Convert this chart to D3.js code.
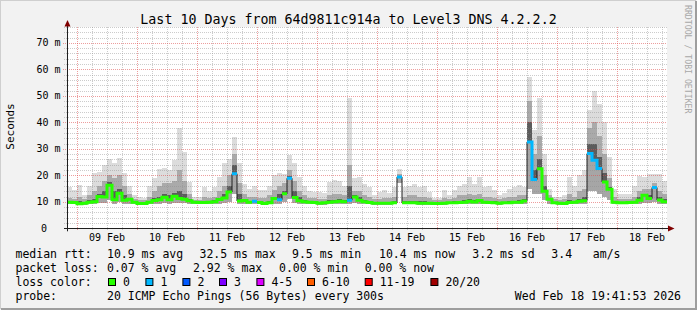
<!DOCTYPE html>
<html><head><meta charset="utf-8">
<script src="https://cdn.jsdelivr.net/npm/d3@7"></script>
<style>
body{margin:0;background:#f2f2f2}
svg{display:block}
text{font-family:"DejaVu Sans Mono",monospace;white-space:pre}
</style></head>
<body><svg id="c" width="697" height="310"></svg>
<script>
// ---- data (2-hour columns starting Feb 8 20:00), values in ms ----
const med = [9.8,9.7,9.3,9.5,9.8,10.0,12.0,11.8,16.2,10.8,13.2,10.6,11.0,9.8,9.4,9.4,9.8,10.5,10.8,11.7,10.8,12.1,11.2,11.0,10.4,9.8,9.7,9.7,9.8,10.0,10.9,11.4,13.7,20.6,10.3,10.5,9.8,10.2,9.7,9.4,9.6,11.2,10.8,13.0,18.9,11.6,10.4,10.0,9.8,9.7,9.5,9.6,9.8,10.0,10.2,10.0,10.6,11.8,10.6,10.0,9.7,9.5,9.5,9.5,9.5,9.6,19.4,9.6,9.6,9.6,9.5,9.5,9.5,9.4,9.4,9.5,9.6,9.6,9.7,9.8,10.2,9.9,10.5,9.8,9.7,9.6,9.5,9.6,9.6,9.8,9.8,10.3,32.6,18.4,22.5,14.0,11.0,9.6,9.5,9.4,9.7,9.8,10.2,10.4,28.2,25.7,22.6,17.5,14.7,9.8,9.6,9.6,9.7,9.8,10.6,12.5,11.2,15.4,10.7,10.0];
const hi  = [15.6,14.3,16.5,12.5,16.0,21.0,21.3,24.0,26.0,24.5,26.5,21.0,16.0,12.5,12.0,11.5,15.8,19.0,22.5,22.6,22.0,25.7,38.0,28.8,17.5,11.8,12.0,15.5,14.0,15.6,19.4,24.5,26.0,34.5,24.5,16.6,15.0,16.0,14.3,14.3,16.0,20.0,21.0,20.5,27.5,24.5,19.4,16.0,14.0,13.8,13.8,13.5,17.5,18.1,18.0,16.0,49.0,19.0,19.4,16.8,15.6,12.6,13.8,14.3,13.2,15.6,22.5,15.6,16.1,16.8,15.6,16.1,13.8,11.5,11.5,14.3,12.6,14.3,16.0,16.8,19.4,16.8,19.4,15.6,16.0,14.3,12.5,13.2,15.0,15.6,16.2,15.6,57.0,37.0,49.0,28.0,15.0,12.0,12.0,12.5,19.4,16.0,20.0,22.0,44.5,52.0,47.0,40.0,27.0,14.8,13.0,13.0,13.0,16.0,19.8,19.4,20.6,20.6,20.6,18.0];
const q90 = [11.5,11.0,12.0,11.0,12.5,14.0,16.0,18.0,20.0,19.0,20.0,16.0,13.0,11.0,10.8,10.5,12.0,14.0,16.0,17.0,17.0,18.0,22.0,18.0,13.0,10.8,10.8,12.0,11.5,12.0,14.0,16.0,20.0,28.0,17.0,13.0,12.0,12.0,11.5,11.5,12.5,14.5,16.0,17.0,22.0,18.0,14.0,12.5,11.5,11.5,11.0,11.0,12.5,13.0,13.0,12.5,24.0,14.0,14.0,12.5,12.0,11.0,11.0,11.5,11.5,12.0,20.5,12.0,12.5,12.5,12.0,12.0,11.5,10.5,10.5,11.5,11.0,11.5,12.5,12.5,13.0,12.5,13.0,12.0,12.0,11.5,11.0,11.5,12.0,12.0,12.5,12.5,48.0,28.0,35.0,20.0,12.5,11.0,10.8,11.0,13.0,12.0,14.0,15.0,38.0,40.0,35.0,28.0,19.0,12.0,11.0,11.0,11.0,12.0,14.0,15.0,15.0,17.0,14.0,13.0];
const q75 = [10.3,10.2,10.4,10.1,10.6,11.0,13.0,14.0,17.5,14.0,15.0,12.5,11.5,10.2,10.0,9.9,10.4,11.5,12.0,13.0,12.5,13.5,14.0,13.0,11.0,10.1,10.1,10.4,10.3,10.6,11.5,13.0,16.0,24.0,13.0,11.0,10.4,10.8,10.3,10.1,10.4,12.0,13.0,14.0,19.8,14.0,12.0,10.8,10.3,10.2,10.1,10.1,10.5,10.8,11.0,10.7,16.0,12.5,12.0,10.7,10.3,10.0,10.0,10.1,10.1,10.3,19.9,10.3,10.4,10.4,10.2,10.2,10.1,9.9,9.9,10.1,10.1,10.2,10.4,10.5,11.0,10.6,11.2,10.4,10.3,10.2,10.0,10.1,10.3,10.4,10.5,11.0,40.0,22.0,26.0,16.0,11.5,10.1,10.0,10.0,10.6,10.4,11.0,12.0,32.0,32.0,27.0,21.0,15.5,10.4,10.1,10.1,10.2,10.4,12.0,13.0,12.5,15.8,12.0,11.0];
const lo  = [9.0,9.0,8.9,8.9,9.0,9.2,9.5,9.5,10.5,9.3,10.0,9.3,9.3,9.0,8.9,8.9,9.0,9.2,9.2,9.4,9.3,9.5,9.4,9.4,9.2,9.0,9.0,9.0,9.0,9.1,9.3,9.4,10.0,13.0,9.2,9.2,9.0,9.2,9.0,8.9,9.0,9.3,9.3,9.8,11.0,9.4,9.2,9.1,9.0,9.0,8.9,8.9,9.0,9.1,9.1,9.1,9.3,9.4,9.2,9.1,9.0,8.9,8.9,8.9,8.9,9.0,17.0,9.0,9.0,9.0,8.9,8.9,8.9,8.9,8.9,8.9,9.0,9.0,9.0,9.0,9.1,9.0,9.2,9.0,9.0,9.0,8.9,9.0,9.0,9.0,9.0,9.2,15.0,13.0,13.0,10.5,9.3,9.0,8.9,8.9,9.0,9.0,9.1,9.2,14.0,14.0,13.0,12.0,10.5,9.0,9.0,9.0,9.0,9.0,9.2,9.6,9.4,10.0,9.3,9.1];
const loss = [0,0,0,0,0,0,0,0,0,0,0,0,0,0,0,0,0,0,0,0,0,0,0,0,0,0,0,0,0,0,0,0,0,1,0,0,0,1,0,0,0,0,1,0,1,0,0,0,0,0,0,0,0,0,0,0,1,0,0,0,0,0,0,0,0,0,1,0,0,0,0,0,0,0,0,0,0,0,0,0,0,0,0,0,0,0,0,0,0,0,0,0,1,1,0,0,0,0,0,0,0,0,0,0,1,1,1,0,0,0,0,0,0,0,0,0,0,1,0,0];
const yTicks = [0,10,20,30,40,50,60,70];
const xTickLabels = ["09 Feb","10 Feb","11 Feb","12 Feb","13 Feb","14 Feb","15 Feb","16 Feb","17 Feb","18 Feb"];
const lossNames = ["0","1","2","3","4-5","6-10","11-19","20/20"];
const lossColors = ["#26ff00","#00b8ff","#0059ff","#7e00ff","#dd00ff","#ff5e00","#ff0000","#a10000"];
const title = "Last 10 Days from 64d9811c914a to Level3 DNS 4.2.2.2";

// ---- scales ----
const H2 = 2*3600*1000;
const t0 = Date.UTC(2026,1,8,20);
const x = d3.scaleUtc().domain([new Date(t0), new Date(t0 + 120*H2)]).range([67,667]);
const y = d3.scaleLinear().domain([0,76]).range([228.3,26.9]);
const svg = d3.select("#c");

// frame
svg.append("rect").attr("x",0).attr("y",0).attr("width",697).attr("height",310).attr("fill","#f2f2f2");
svg.append("path").attr("d","M0,309 V0 H696").attr("stroke","#cfcfcf").attr("stroke-width",2).attr("fill","none");
svg.append("path").attr("d","M1,309 H696 V1").attr("stroke","#9e9e9e").attr("stroke-width",2).attr("fill","none");

// canvas
svg.append("rect").attr("x",x.range()[0]).attr("y",y(76)).attr("width",x.range()[1]-x.range()[0]).attr("height",y(0)-y(76)).attr("fill","#fff");

// smoke
const cols = med.map((m,i)=>({i,m,hi:hi[i],q90:q90[i],q75:q75[i],lo:lo[i],loss:loss[i],
  x0:x(new Date(t0+i*H2)), x1:x(new Date(t0+(i+1)*H2))}));
function band(a,b,col){
  svg.append("g").selectAll("rect").data(cols).join("rect")
    .attr("x",d=>d.x0).attr("width",d=>d.x1-d.x0+0.01)
    .attr("y",d=>y(b(d))).attr("height",d=>Math.max(0,y(a(d))-y(b(d))))
    .attr("fill",col).attr("shape-rendering","crispEdges");
}
band(d=>d.m,d=>d.hi,"#dcdcdc");
band(d=>d.m,d=>d.q90,"#aaaaaa");
band(d=>d.m,d=>d.q75,"#5c5c5c");
band(d=>d.lo,d=>d.m,"#a6a6a6");

// grid
const g = svg.append("g").attr("fill","none").attr("stroke-dasharray","1,1").attr("shape-rendering","crispEdges");
const minorT = x.ticks(d3.utcHour.every(6)).filter(t=>t.getUTCHours()!==0);
const majorT = x.ticks(d3.utcDay);
g.selectAll(".vm").data(minorT).join("line").attr("x1",d=>Math.round(x(d))+0.5).attr("x2",d=>Math.round(x(d))+0.5)
  .attr("y1",y(76)).attr("y2",y(0)+2).attr("stroke","rgba(143,143,143,0.45)");
const hMinor = d3.range(2,77,2).filter(v=>v%10!==0);
g.selectAll(".hm").data(hMinor).join("line").attr("x1",64).attr("x2",667)
  .attr("y1",d=>Math.round(y(d))+0.5).attr("y2",d=>Math.round(y(d))+0.5).attr("stroke","rgba(143,143,143,0.45)");
g.selectAll(".vM").data(majorT).join("line").attr("x1",d=>Math.round(x(d))+0.5).attr("x2",d=>Math.round(x(d))+0.5)
  .attr("y1",y(76)).attr("y2",y(0)+3).attr("stroke","rgba(222,79,79,0.55)");
g.selectAll(".hM").data(yTicks.slice(1)).join("line").attr("x1",63).attr("x2",667)
  .attr("y1",d=>Math.round(y(d))+0.5).attr("y2",d=>Math.round(y(d))+0.5).attr("stroke","rgba(222,79,79,0.55)");

// median thin line
const pts = [];
cols.forEach(d=>{pts.push({x:d.x0,v:d.m,l:d.loss});pts.push({x:d.x1,v:d.m,l:d.loss});});
svg.append("path").attr("d",d3.line().x(d=>d.x).y(d=>y(d.v))(pts))
  .attr("fill","none").attr("stroke","#202020").attr("stroke-width",1);
// colored median by loss
const lossClass = l => l===0?0:l===1?1:l===2?2:l===3?3:l<=5?4:l<=10?5:l<=19?6:7;
lossColors.forEach((c,k)=>{
  svg.append("path").attr("d",d3.line().defined(d=>lossClass(d.l)===k).x(d=>d.x).y(d=>y(d.v))(pts))
    .attr("fill","none").attr("stroke",c).attr("stroke-width",3);
});

// axes
svg.append("line").attr("x1",67.5).attr("x2",67.5).attr("y1",y(0)+3).attr("y2",24).attr("stroke","#1f1f1f");
svg.append("line").attr("x1",64).attr("x2",670).attr("y1",228.5).attr("y2",228.5).attr("stroke","#1f1f1f");
svg.append("path").attr("d","M64.5,26.5 L67.5,20 L70.5,26.5 Z").attr("fill","#800000");
svg.append("path").attr("d","M668,225.5 L674.5,228.5 L668,231.5 Z").attr("fill","#800000");

// y labels
svg.append("g").selectAll("text").data(yTicks).join("text")
  .attr("x",d=>d===0?47:60.5).attr("y",d=>y(d)+3.6).attr("text-anchor","end")
  .attr("font-size",10).attr("fill","#000").text(d=>d===0?"0":d+" m");
// x labels
svg.append("g").selectAll("text").data(xTickLabels).join("text")
  .attr("x",(d,i)=>x(new Date(Date.UTC(2026,1,9+i,12)))).attr("y",241)
  .attr("text-anchor","middle").attr("font-size",10).attr("fill","#000").text(d=>d);

// titles
svg.append("text").attr("x",348.5).attr("y",24).attr("text-anchor","middle").attr("font-size",13.3).text(title);
svg.append("text").attr("transform","translate(13.5,126.5) rotate(-90)").attr("text-anchor","middle").attr("font-size",11).text("Seconds");
svg.append("text").attr("transform","translate(685,5) rotate(90)").attr("font-size",8.2).attr("fill","#a8a8a8").text("RRDTOOL / TOBI OETIKER");

// legend
const fs = 11.5;
function t(xp,yp,s,anchor){svg.append("text").attr("x",xp).attr("y",yp).attr("font-size",fs).attr("text-anchor",anchor||"start").text(s);}
t(15.5,257.5,"median rtt:");
[[107,"10.9 ms avg"],[199.5,"32.5 ms max"],[292,"9.5 ms min"],[379,"10.4 ms now"],[472.3,"3.2 ms sd"],[551.3,"3.4   am/s"]].forEach(a=>t(a[0],257.5,a[1]));
t(15.5,271.5,"packet loss:");
[[107,"0.07 % avg"],[193,"2.92 % max"],[279,"0.00 % min"],[364.7,"0.00 % now"]].forEach(a=>t(a[0],271.5,a[1]));
t(15.5,285.5,"loss color:");
const sw = [108.5,145.9,182.9,219.5,256.9,307.5,365.2,430.9];
lossNames.forEach((n,k)=>{
  svg.append("rect").attr("x",sw[k]).attr("y",278.5).attr("width",7).attr("height",7)
    .attr("fill",lossColors[k]).attr("stroke","#000").attr("stroke-width",1);
  t(sw[k]+14.5,285.5,n);
});
t(15.5,299.5,"probe:");
t(107,299.5,"20 ICMP Echo Pings (56 Bytes) every 300s");
t(681,299.5,"Wed Feb 18 19:41:53 2026","end");
</script></body></html>
